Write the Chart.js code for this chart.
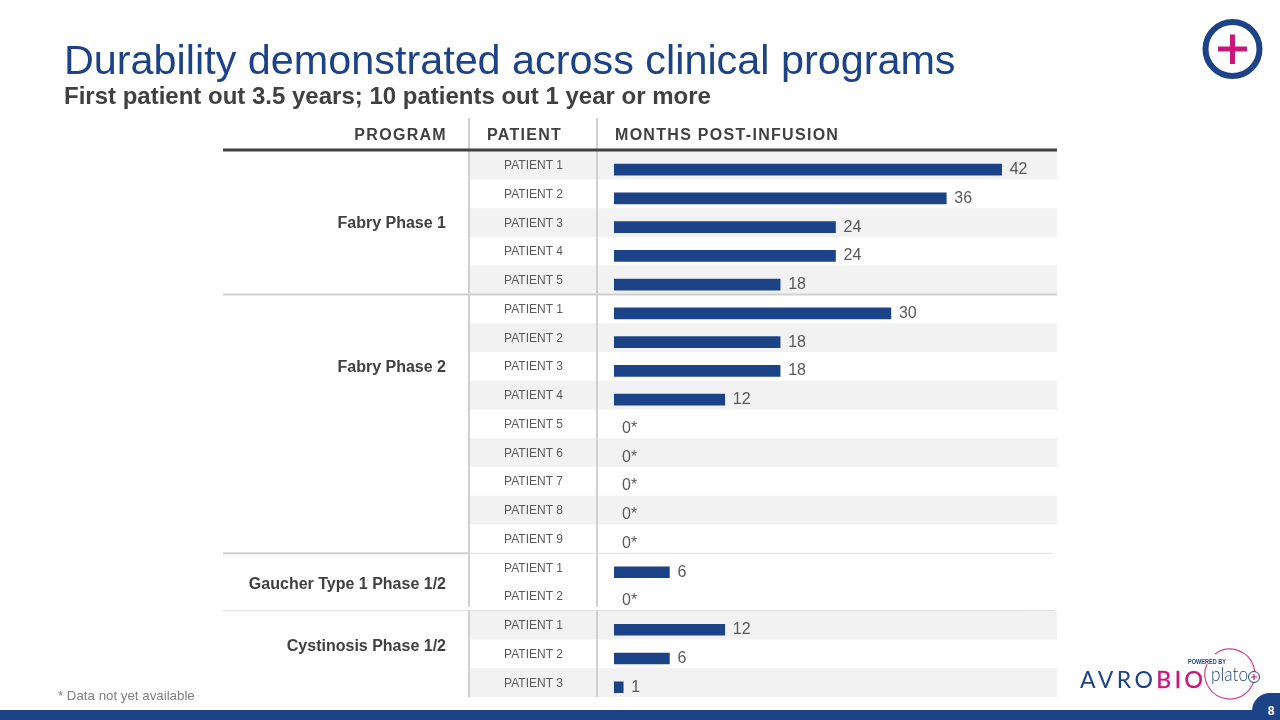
<!DOCTYPE html>
<html>
<head>
<meta charset="utf-8">
<title>Durability demonstrated across clinical programs</title>
<script src="https://cdn.jsdelivr.net/npm/chart.js@4"></script>
<style>
  html, body { margin: 0; padding: 0; background: #fff; }
  body { width: 1280px; height: 720px; position: relative; overflow: hidden; font-family: "Liberation Sans", Arial, sans-serif; }
  canvas { position: absolute; left: 0; top: 0; }
  .t { position: absolute; white-space: nowrap; }
  #title { left: 64px; top: 36px; font-size: 41.35px; line-height: 48px; color: #1c4387; }
  #subtitle { left: 64px; top: 81px; font-size: 24px; line-height: 30px; font-weight: bold; color: #404040; }
  .head { top: 125px; font-size: 16px; line-height: 20px; font-weight: bold; color: #404040; letter-spacing: 1.3px; }
  #note { left: 58px; top: 688px; font-size: 13.3px; line-height: 16px; color: #7f7f7f; }
  #strip { position: absolute; left: 0; top: 710px; width: 1280px; height: 10px; background: #1c4387; }
  #tab { position: absolute; left: 1252px; top: 693px; width: 28px; height: 27px; background: #1c4387; border-top-left-radius: 18px; color: #fff; font-size: 12px; font-weight: bold; text-align: center; line-height: 36px; text-indent: 10px; }
  svg { position: absolute; left: 0; top: 0; }
</style>
</head>
<body>
<canvas id="bars" width="1280" height="720"></canvas>
<div class="t" id="title">Durability demonstrated across clinical programs</div>
<div class="t" id="subtitle">First patient out 3.5 years; 10 patients out 1 year or more</div>
<div class="t head" style="right:833px">PROGRAM</div>
<div class="t head" style="left:487px">PATIENT</div>
<div class="t head" style="left:615px">MONTHS POST-INFUSION</div>
<div class="t" id="note">* Data not yet available</div>
<div id="strip"></div>
<div id="tab">8</div>
<svg width="1280" height="720" viewBox="0 0 1280 720">
  <circle cx="1232.5" cy="49" r="27" fill="none" stroke="#1c4387" stroke-width="6"/>
  <path d="M1218 49H1247M1232.5 34.500V64" stroke="#c8177d" stroke-width="5" fill="none"/>
  <path d="M1215 654A25 25 0 1 1 1207 664" stroke="#d6408f" stroke-width="1.2" fill="none"/>
  <text x="1188" y="664" font-size="6.500" font-weight="bold" fill="#1c4387" font-family="Liberation Sans" textLength="38" lengthAdjust="spacingAndGlyphs">POWERED BY</text>
  <text x="1080" y="688" font-size="23" fill="#1c4387" font-family="Lato" textLength="123">AVRO<tspan fill="#c8177d" stroke="#c8177d" stroke-width="0.4">BIO</tspan></text>
  <text x="1211" y="681" font-size="19" font-weight="300" fill="#1c4387" font-family="Lato" textLength="37" lengthAdjust="spacingAndGlyphs">plato</text>
  <circle cx="1254" cy="677" r="5.500" fill="#fff" stroke="#1c4387" stroke-width="1"/>
  <path d="M1251 677H1257M1254 674V680" stroke="#c8177d" stroke-width="1.200" fill="none"/>
</svg>
<script>
var patients = [
    'PATIENT 1', 'PATIENT 2', 'PATIENT 3', 'PATIENT 4', 'PATIENT 5',
    'PATIENT 1', 'PATIENT 2', 'PATIENT 3', 'PATIENT 4', 'PATIENT 5', 'PATIENT 6', 'PATIENT 7', 'PATIENT 8', 'PATIENT 9',
    'PATIENT 1', 'PATIENT 2',
    'PATIENT 1', 'PATIENT 2', 'PATIENT 3'
];
var monthsPostInfusion = [42, 36, 24, 24, 18, 30, 18, 18, 12, 0, 0, 0, 0, 0, 6, 0, 12, 6, 1];
var programs = ['Fabry Phase 1', 'Fabry Phase 2', 'Gaucher Type 1 Phase 1/2', 'Cystinosis Phase 1/2'];
// row each program name sits on, they are not all centred on their group
var programRows = [2, 7, 14.55, 16.7];
var unshadedRows = [14];

// the table rows sit a little above the bars in the slide
var rowShift = 4.6;
var darkText = '#404040';
var greyText = '#595959';
var rule = '#d0d0d0';

var tablePlugin = {
    id: 'table',
    beforeDraw: function(chart) {
        var c = chart.ctx, y = chart.scales.y, area = chart.chartArea;
        var rowH = y.getPixelForValue(1) - y.getPixelForValue(0);
        function rowTop(i) { return y.getPixelForValue(i) - rowShift - rowH / 2; }

        c.save();
        c.fillStyle = '#f2f2f2';
        patients.forEach(function(p, i) {
            if (i % 2 === 0 && unshadedRows.indexOf(i) < 0) {
                c.fillRect(470, rowTop(i), area.right - 470, rowH);
            }
        });

        function line(x1, y1, x2, y2, w, col) {
            c.strokeStyle = col;
            c.lineWidth = w;
            c.beginPath();
            c.moveTo(x1, y1);
            c.lineTo(x2, y2);
            c.stroke();
        }
        line(469, 118, 469, rowTop(16) - 4, 2, rule);
        line(469, rowTop(16), 469, rowTop(19), 2, rule);
        line(597, 118, 597, rowTop(16) - 4, 2, rule);
        line(597, rowTop(16), 597, rowTop(19), 2, rule);
        line(223, 150, area.right, 150, 3, darkText);
        line(223, rowTop(5), area.right, rowTop(5), 2, rule);
        line(223, rowTop(14), 469, rowTop(14), 2, rule);
        line(469, rowTop(14), 1052, rowTop(14), 1, '#dcdcdc');
        line(223, rowTop(16), 1055, rowTop(16), 1, '#dcdcdc');

        c.fillStyle = darkText;
        c.font = 'bold 16px "Liberation Sans"';
        c.textAlign = 'right';
        c.textBaseline = 'middle';
        programs.forEach(function(name, i) {
            c.fillText(name, 446, y.getPixelForValue(programRows[i]) - rowShift + 1);
        });
        c.restore();
    },
    afterDatasetsDraw: function(chart) {
        var c = chart.ctx;
        c.save();
        c.fillStyle = greyText;
        c.font = '16px "Liberation Sans"';
        c.textAlign = 'left';
        c.textBaseline = 'middle';
        chart.getDatasetMeta(0).data.forEach(function(bar, i) {
            var v = monthsPostInfusion[i];
            c.fillText(v === 0 ? '0*' : String(v), bar.x + 8, bar.y);
        });
        c.restore();
    }
};

new Chart(document.getElementById('bars'), {
    type: 'bar',
    plugins: [tablePlugin],
    data: {
        labels: patients,
        datasets: [{
            data: monthsPostInfusion,
            // a zero bar would otherwise leave a hairline on the axis
            backgroundColor: function(ctx) { return ctx.raw === 0 ? 'rgba(0,0,0,0)' : '#1c4387'; },
            barThickness: 11
        }]
    },
    options: {
        indexAxis: 'y',
        responsive: false,
        animation: false,
        layout: { padding: { left: 0, right: 223, top: 155.3, bottom: 18.4 } },
        plugins: { legend: { display: false }, tooltip: { enabled: false } },
        scales: {
            x: { display: false, min: 0, max: 48 },
            y: {
                afterFit: function(scale) {
                    scale.width = 614;
                    scale.paddingTop = 0;
                    scale.paddingBottom = 0;
                },
                grid: { display: false, drawTicks: false },
                border: { display: false },
                ticks: {
                    autoSkip: false,
                    padding: 51,
                    color: greyText,
                    // short line height, the blank second line lifts the label onto its table row
                    font: { family: '"Liberation Sans"', size: 12, lineHeight: 0.65 },
                    callback: function(v) { return [patients[v], '']; }
                }
            }
        }
    }
});
</script>
</body>
</html>
